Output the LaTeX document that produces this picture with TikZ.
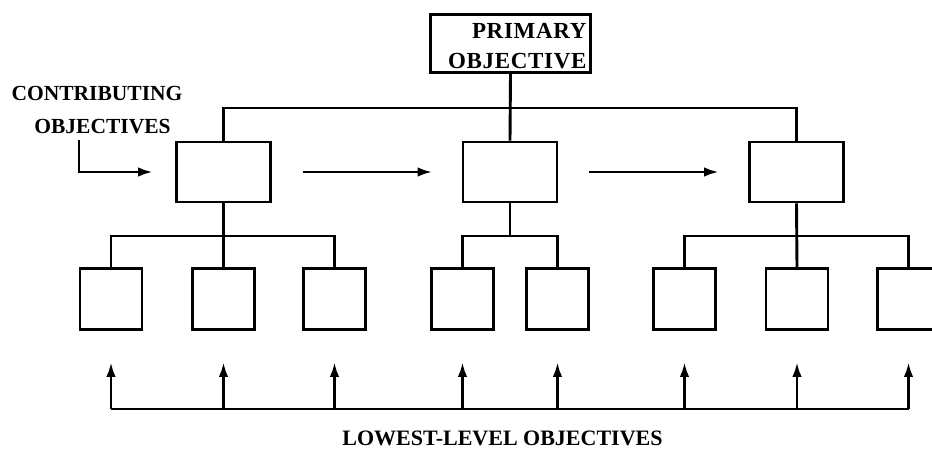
\documentclass[tikz,border=0pt]{standalone}
\usepackage{fontspec}
\setmainfont{Liberation Serif}
\newfontfamily\spacedserif[LetterSpace=3]{Liberation Serif}
\usetikzlibrary{arrows.meta}
\begin{document}
\begin{tikzpicture}[x=1pt,y=-1pt,
  line width=2.9pt,
  leafbox/.style={draw, rectangle, inner sep=0pt, minimum width=62pt, minimum height=61pt},
  midbox/.style={draw, rectangle, inner sep=0pt, minimum width=94pt, minimum height=60pt},
  topbox/.style={draw, rectangle, inner sep=0pt, minimum width=160pt, minimum height=58pt,
    text width=152pt, align=right, font=\spacedserif\bfseries\fontsize{23}{30}\selectfont},
  caption/.style={inner sep=0pt, anchor=base},
  flow/.style={-{Latex[length=15pt,width=9.5pt]}},
]
\useasboundingbox (0,0) rectangle (932,451);
\clip (0,0) rectangle (932,451);

% levels of the hierarchy
\node[topbox] (P) at (510.5,43.5) {\rule{0pt}{21pt}PRIMARY\\OBJECTIVE};

\node[midbox] (M1) at (223.5,172) {};
\node[midbox] (M2) at (510,172) {};
\node[midbox] (M3) at (796.5,172) {};

\foreach \i/\x in {1/111,2/223.5,3/334.5,4/462.5,5/557.5,6/684.5,7/797,8/908.5}
  \node[leafbox] (L\i) at (\x,299) {};

% bars joining the levels
\coordinate (topbar) at (0,108);
\coordinate (groupbar) at (0,236);
\coordinate (base) at (0,409);

\draw (P.south) -- (M2.north);
\draw (M1.north) -- (M1.north |- topbar) -- (M3.north |- topbar) -- (M3.north);

\draw (M1.south) -- (L2.north);
\draw (L1.north) -- (L1.north |- groupbar) -- (L3.north |- groupbar) -- (L3.north);

\draw (M2.south) -- (M2.south |- groupbar);
\draw (L4.north) -- (L4.north |- groupbar) -- (L5.north |- groupbar) -- (L5.north);

\draw (M3.south) -- (L7.north);
\draw (L6.north) -- (L6.north |- groupbar) -- (L8.north |- groupbar) -- (L8.north);

% contributing objectives and the flow between them
\node[caption, font=\bfseries\fontsize{21.5}{30}\selectfont] (clab1) at (97,100.7) {CONTRIBUTING};
\node[caption, font=\bfseries\fontsize{21.5}{30}\selectfont] (clab2) at (102.5,133) {OBJECTIVES};
\coordinate (cstart) at (79,140);
\draw[flow, shorten >=22pt] (cstart) |- (M1.west);
\draw[flow, shorten <=31pt, shorten >=29pt] (M1.east) -- (M2.west);
\draw[flow, shorten <=31pt, shorten >=29pt] (M2.east) -- (M3.west);

% lowest-level objectives feeding upward
\draw (L1.south |- base) -- (L8.south |- base);
\foreach \i in {1,...,8}
  \draw[flow, shorten >=31pt] (L\i.south |- base) -- (L\i.south);
\node[caption, font=\bfseries\fontsize{22}{30}\selectfont] (llab) at (502.5,445) {LOWEST-LEVEL OBJECTIVES};
\end{tikzpicture}
\end{document}
